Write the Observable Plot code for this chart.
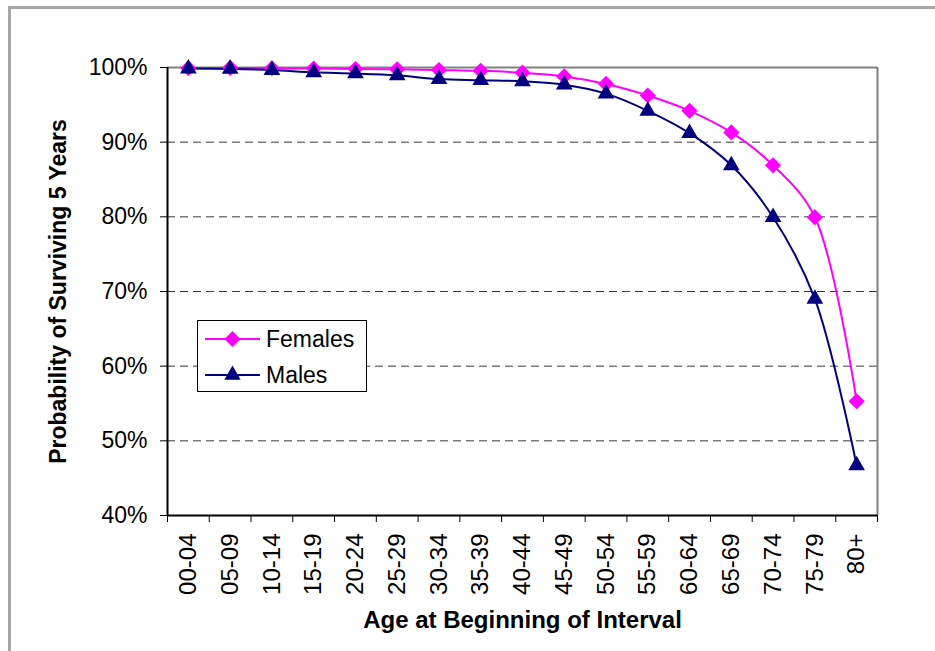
<!DOCTYPE html>
<html>
<head>
<meta charset="utf-8">
<script src="https://cdn.jsdelivr.net/npm/d3@7"></script>
<script src="https://cdn.jsdelivr.net/npm/@observablehq/plot@0.6"></script>
<style>
  html, body { margin: 0; padding: 0; background: #fff; overflow: hidden; }
  #wrap { position: relative; width: 935px; height: 651px; }
  #frame { position: absolute; left: 8px; top: 6px; width: 1000px; height: 700px;
           border-left: 3px solid #a6a6a6; border-top: 3px solid #a6a6a6; }
  #chart { position: absolute; left: 0; top: 0; }
  #legend { position: absolute; left: 197px; top: 320px; width: 168px; height: 70px;
            border: 1px solid #000; background: #fff; }
</style>
</head>
<body>
<div id="wrap">
  <div id="frame"></div>
  <div id="chart"></div>
  <div id="legend"></div>
</div>
<script>
const ages = ["00-04","05-09","10-14","15-19","20-24","25-29","30-34","35-39","40-44","45-49","50-54","55-59","60-64","65-69","70-74","75-79","80+"];
const females = [99.9, 99.95, 99.9, 99.85, 99.8, 99.75, 99.65, 99.55, 99.3, 98.8, 97.8, 96.25, 94.2, 91.3, 86.9, 79.95, 55.3];
const males = [99.85, 99.8, 99.65, 99.35, 99.2, 98.95, 98.45, 98.3, 98.15, 97.7, 96.5, 94.2, 91.2, 86.9, 79.95, 69.0, 46.7];
const yTicks = [40, 50, 60, 70, 80, 90, 100];
const gridTicks = [50, 60, 70, 80, 90];
const seriesNames = ["Females", "Males"];
const seriesColors = ["#ff00ff", "#000080"];
const yTitle = "Probability of Surviving 5 Years";
const xTitle = "Age at Beginning of Interval";

const rows = ages.map((a, i) => ({i, age: a, female: females[i], male: males[i]}));
const n = ages.length;
const boundaries = d3.range(n + 1).map(k => k - 0.5);

const chart = Plot.plot({
  width: 935,
  height: 651,
  marginLeft: 167,
  marginRight: 58,
  marginTop: 67,
  marginBottom: 136,
  style: {fontFamily: "'Liberation Sans', Arial, sans-serif", fontSize: "23px", background: "transparent", color: "black"},
  x: {type: "linear", domain: [-0.5, n - 0.5]},
  y: {domain: [40, 100]},
  marks: [
    Plot.ruleY(gridTicks, {stroke: "#3a3a3a", strokeDasharray: "8,5", strokeWidth: 1}),
    Plot.ruleY([100], {stroke: "#808080", strokeWidth: 2}),
    Plot.ruleX([n - 0.5], {stroke: "#808080", strokeWidth: 2}),
    Plot.axisY({ticks: yTicks, tickFormat: d => d + "%", tickSize: 7, tickPadding: 13, label: null, fontSize: 23}),
    Plot.axisX({ticks: boundaries, tickFormat: () => "", tickSize: 7, label: null}),
    Plot.axisX({ticks: d3.range(n), tickFormat: i => ages[i], tickSize: 0, tickPadding: 18, tickRotate: -90, label: null, fontSize: 24}),
    Plot.ruleX([-0.5], {stroke: "black", strokeWidth: 2}),
    Plot.ruleY([40], {stroke: "black", strokeWidth: 2}),
    Plot.line(rows, {x: "i", y: "female", stroke: seriesColors[0], strokeWidth: 2, curve: "catmull-rom"}),
    Plot.line(rows, {x: "i", y: "male", stroke: seriesColors[1], strokeWidth: 2, curve: "catmull-rom"}),
    Plot.dot(rows, {x: "i", y: "female", symbol: "diamond2", fill: seriesColors[0], stroke: "none", r: 7.3}),
    Plot.dot(rows, {x: "i", y: "male", symbol: "triangle", fill: seriesColors[1], stroke: "none", r: 6.2}),
    Plot.text([yTitle], {frameAnchor: "left", textAnchor: "middle", lineAnchor: "middle", rotate: -90, dx: -109, fontWeight: "bold", fontSize: 23}),
    Plot.text([xTitle], {frameAnchor: "bottom", textAnchor: "middle", lineAnchor: "middle", dy: 105, fontWeight: "bold", fontSize: 24})
  ]
});
document.getElementById("chart").appendChild(chart);

// Legend
const lsvg = d3.select("#legend").append("svg").attr("width", 168).attr("height", 70)
  .style("font-family", "'Liberation Sans', Arial, sans-serif");
const symbols = [d3.symbol(d3.symbolDiamond2, 165), d3.symbol(d3.symbolTriangle, 115)];
seriesNames.forEach((name, k) => {
  const cy = 18 + k * 36;
  const g = lsvg.append("g");
  g.append("line").attr("x1", 7).attr("x2", 62).attr("y1", cy).attr("y2", cy)
    .attr("stroke", seriesColors[k]).attr("stroke-width", 2);
  g.append("path").attr("d", symbols[k]()).attr("transform", `translate(34.5,${cy})`).attr("fill", seriesColors[k]);
  g.append("text").attr("x", 68).attr("y", cy).attr("dy", "0.35em").attr("font-size", 23).attr("fill", "black").text(name);
});
</script>
</body>
</html>
